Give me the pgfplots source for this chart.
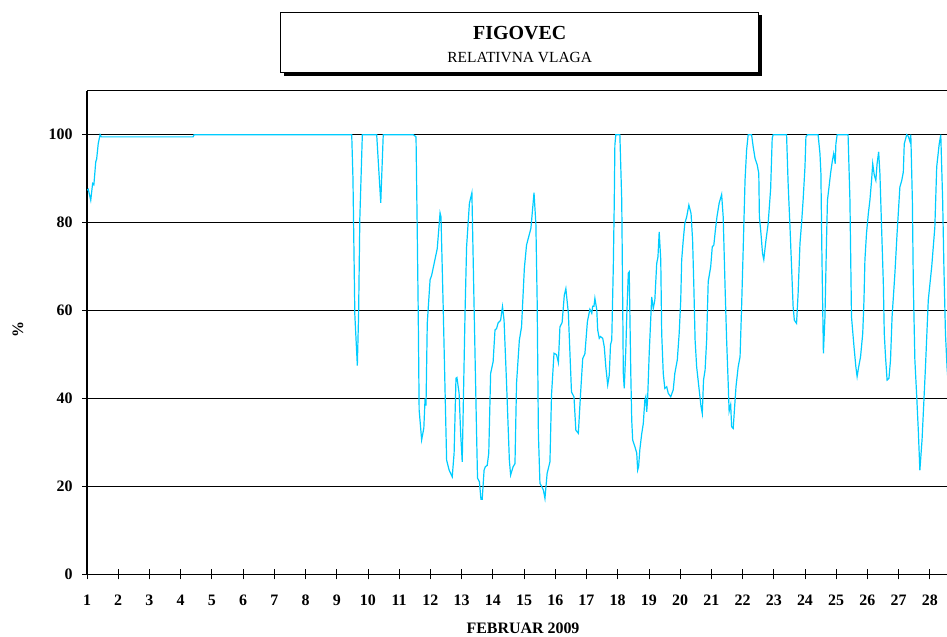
\documentclass[border=0pt]{standalone}
\usepackage{fontspec}
\setmainfont{Liberation Serif}
\usepackage{pgfplots}
\pgfplotsset{compat=1.18}
\definecolor{rh}{RGB}{0,204,255}
\begin{document}
\begin{tikzpicture}[x=1bp,y=1bp]
\path[use as bounding box] (0,0) rectangle (947,637);
% title box
\fill[black] (283.7,561.3) rectangle (761.7,621.7);
\draw[line width=1bp, fill=white] (280.7,564.3) rectangle (758.7,624.7);
\node[anchor=base, font=\bfseries\fontsize{20}{20}\selectfont, inner sep=0pt] at (519.7,597) {FIGOVEC};
\node[anchor=base, font=\fontsize{15.5}{15.5}\selectfont, inner sep=0pt] at (519.7,574.7) {RELATIVNA VLAGA};
\node[rotate=90, font=\bfseries\fontsize{16}{16}\selectfont, inner sep=0pt] at (18,307) {\%};
\begin{axis}[
  at={(87bp,62.5bp)}, anchor=south west,
  scale only axis, width=860bp, height=483.8bp,
  xmin=1, xmax=28.55, ymin=0, ymax=110,
  axis x line*=bottom, axis y line*=left,
  axis line style={line width=1.2bp, black},
  xtick={1,...,28}, ytick={0,20,40,60,80,100},
  tick align=center, major tick length=10bp,
  tick style={line width=0.8bp, black},
  ymajorgrids, grid style={line width=0.9bp, black},
  /pgf/number format/assume math mode=true,
  tick label style={font=\bfseries\fontsize{16}{16}\selectfont},
  xticklabel style={anchor=base, inner sep=0pt, yshift=-26.5bp},
  yticklabel style={anchor=east, inner sep=0pt, xshift=-9.3bp},
  xlabel={FEBRUAR 2009},
  xlabel style={font=\bfseries\fontsize{16}{16}\selectfont, at={(rel axis cs:0.507,0)}, anchor=base, inner sep=0pt, yshift=-59.5bp},
  clip=true,
]
\addplot[color=rh, line width=1.2bp, mark=none] table {
1.00 87.4
1.04 87.6
1.12 85.1
1.18 88.9
1.22 88.6
1.28 93.8
1.31 94.5
1.36 98
1.42 100
1.46 99.5
4.40 99.5
4.43 100
9.42 100
9.48 100
9.52 90
9.58 59
9.66 47.5
9.70 59
9.74 81
9.82 100
10.28 100
10.41 84.5
10.49 100
11.45 100
11.54 99.5
11.58 77.6
11.61 60
11.64 37.4
11.72 30.6
11.79 33.3
11.83 40
11.86 38.4
11.90 57.1
11.99 67
12.04 68
12.22 74.1
12.31 82.2
12.34 81.3
12.41 60.9
12.52 26
12.60 23.75
12.70 22.2
12.76 27.6
12.82 44.6
12.85 44.8
12.92 41.2
12.97 32
13.02 25.6
13.11 59.4
13.16 74.5
13.25 84.4
13.33 86.8
13.40 60.9
13.48 32
13.51 21.9
13.57 21.1
13.62 17.1
13.66 17.1
13.72 23.7
13.76 24.5
13.82 24.8
13.87 27.6
13.93 45.7
14.01 48.4
14.07 55.6
14.12 55.9
14.17 57.2
14.25 57.8
14.31 60.9
14.36 57.8
14.44 43.5
14.53 26
14.57 22.6
14.65 24.5
14.71 25.2
14.76 43.5
14.85 53.3
14.92 56.3
15.01 69.6
15.08 74.9
15.22 78.7
15.32 86.8
15.38 79.6
15.42 62.4
15.46 32
15.51 20.7
15.56 20.1
15.62 19.2
15.67 17.3
15.74 23
15.83 25.6
15.88 40.8
15.96 50.3
16.04 50
16.10 48.2
16.15 56.3
16.22 57.3
16.29 63.5
16.34 65
16.42 59.4
16.52 41.5
16.60 40.4
16.66 32.8
16.74 32.1
16.81 41
16.88 49.1
16.95 50.2
17.03 57.5
17.11 60.3
17.17 59.4
17.20 61
17.24 61
17.27 62.8
17.33 60.2
17.36 55.6
17.41 53.7
17.45 54.1
17.52 53.7
17.57 51.8
17.62 47.2
17.68 43.1
17.73 45.3
17.77 52.2
17.81 53.3
17.86 70
17.89 84.4
17.91 97.6
17.94 100
18.07 100
18.13 85
18.16 62.4
18.18 45.7
18.21 42.3
18.26 51
18.29 58.6
18.34 68.5
18.37 68.8
18.42 45.7
18.45 35.1
18.48 30.6
18.55 29.1
18.61 27.6
18.64 23.75
18.67 24.5
18.71 28.4
18.77 32
18.82 34.3
18.87 39.6
18.90 40.4
18.93 37
18.96 40
19.01 50.3
19.09 63.1
19.14 60.5
19.19 62.4
19.25 70.7
19.29 72.2
19.33 77.9
19.38 71.5
19.41 54.8
19.46 45.7
19.51 42.3
19.57 42.7
19.62 41.2
19.70 40.4
19.78 42
19.83 45.7
19.91 48.8
19.97 54.8
20.02 62.4
20.05 71.5
20.10 76
20.15 79.8
20.21 81.3
20.28 84
20.35 82.1
20.40 76
20.44 65.4
20.48 53.3
20.53 47.2
20.61 42
20.67 38.2
20.71 36.6
20.75 44.2
20.80 46.5
20.85 53.3
20.90 66.6
20.98 70
21.03 74.5
21.08 74.9
21.13 78.3
21.18 81.3
21.25 84.4
21.33 86.4
21.38 81.3
21.44 65.4
21.49 53.3
21.54 43.5
21.57 37.1
21.62 38.6
21.65 33.6
21.70 33.2
21.79 42.7
21.86 47.2
21.92 49.5
21.97 60.9
22.02 73.8
22.08 89.7
22.13 96.5
22.18 100
22.29 100
22.34 97.3
22.40 94.6
22.47 93.1
22.52 91.2
22.54 81.3
22.59 77.5
22.64 73
22.68 71.6
22.75 76
22.82 79.8
22.90 87.7
22.95 99.2
22.98 100
23.41 100
23.46 88.9
23.52 79
23.57 70
23.62 60.9
23.66 57.8
23.73 57.1
23.78 63.9
23.84 75.3
23.89 79.8
23.94 85.1
24.00 92.7
24.03 99.5
24.08 100
24.42 100
24.48 95.7
24.51 91.2
24.54 73.8
24.59 50.3
24.64 58.6
24.69 76
24.72 85.1
24.77 88.1
24.82 91.2
24.88 94.2
24.92 95.7
24.97 93.4
24.99 97.9
25.03 100
25.38 100
25.44 85.1
25.49 58.6
25.57 51.8
25.63 47.2
25.67 45
25.72 47.2
25.78 49.5
25.85 54.8
25.89 62.4
25.92 71.5
25.97 77.5
26.03 82.1
26.08 85.1
26.13 89.3
26.17 93.4
26.22 90.8
26.27 89.6
26.31 93.4
26.36 96.1
26.40 91.2
26.45 79.8
26.51 66.2
26.54 54.8
26.58 49.5
26.63 44.2
26.69 44.6
26.74 48.8
26.79 58.6
26.88 68.4
26.95 77.5
27.04 88.1
27.10 89.6
27.15 91.5
27.18 97.9
27.26 100
27.31 99.6
27.36 98.5
27.39 100
27.44 85.1
27.47 66.2
27.52 48.8
27.58 40.4
27.63 32.8
27.68 23.7
27.75 30.6
27.81 39.6
27.86 47.2
27.95 62.4
28.06 70
28.16 79
28.22 92.7
28.30 97.9
28.35 100
28.41 85.1
28.45 70
28.50 54.8
28.55 47.2
28.60 42
};
\end{axis}
\draw[line width=1.2bp, black] (87,546.3) -- (947,546.3);
\end{tikzpicture}
\end{document}
